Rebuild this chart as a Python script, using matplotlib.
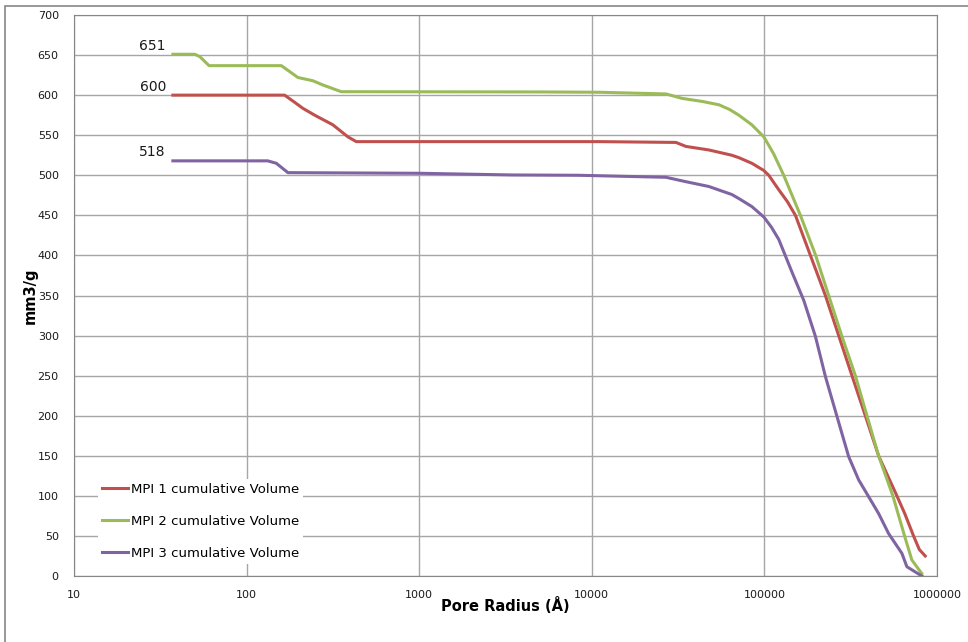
import matplotlib.pyplot as plt
from matplotlib.patches import Rectangle

# pore radius (Angstrom) and cumulative volume (mm3/g)
mpi1_x = [37.4, 166, 190, 212, 248, 316, 386, 432, 4958, 11015, 30720, 35110,
          47690, 64770, 71110, 84560, 99200, 106000, 121100, 136000, 151300,
          184800, 225600, 269400, 321600, 384400, 458800, 585600, 650000,
          731300, 790000, 854500]
mpi1_y = [600, 600, 591, 583.5, 575, 563, 548, 542, 542, 542, 541, 536,
          531.6, 525, 522, 515, 506, 500, 482, 467, 450, 400, 350, 300, 250,
          200, 150, 100, 78, 50, 33, 25]

mpi2_x = [37.4, 50.1, 53.6, 60.6, 159, 198.3, 241.7, 276.6, 353.4, 4958, 11015,
          26900, 33290, 44000, 54490, 63000, 71110, 84560, 99200, 113000,
          129400, 161700, 198200, 235700, 280300, 336500, 392700, 458800,
          555000, 648600, 715000, 816700]
mpi2_y = [651, 651, 648, 636.8, 636.8, 622, 618, 612.7, 604.3, 604, 603.6,
          601.5, 596, 592, 588, 582, 575, 563, 548, 527, 500, 450, 400, 350,
          300, 250, 200, 150, 100, 50, 20, 3]

mpi3_x = [37.4, 132.5, 148.6, 173.5, 1003, 3459, 8445, 26900, 35110, 47690,
          64770, 71110, 84560, 99200, 110000, 121100, 144600, 169000, 197500,
          225600, 263400, 307700, 351600, 401700, 458800, 524200, 625900,
          669000, 816700]
mpi3_y = [518, 518, 515, 503.3, 502.5, 500.4, 500, 497.5, 492, 486, 476, 471,
          461, 448, 435, 420, 379, 344, 299, 249, 199, 149, 120, 99, 78, 53,
          28.3, 11.6, 0]

labels = ["MPI 1 cumulative Volume", "MPI 2 cumulative Volume",
          "MPI 3 cumulative Volume"]
colors = ["#c0504d", "#9bbb59", "#8064a2"]

fig = plt.figure(figsize=(9.68, 6.42), dpi=100)
fig.patches.append(Rectangle((5 / 968, -0.1), 1.2, 1.1 - 6 / 642,
                             transform=fig.transFigure, fill=False,
                             edgecolor="#868686", linewidth=1.2))
ax = fig.add_axes([74 / 968, 1 - 576 / 642, 863 / 968, 561 / 642])

series = [(mpi1_x, mpi1_y), (mpi2_x, mpi2_y), (mpi3_x, mpi3_y)]
for (xs, ys), lab, c in zip(series, labels, colors):
    ax.plot(xs, ys, color=c, linewidth=2.2, label=lab,
            solid_joinstyle="round")
    ax.annotate(str(int(ys[0])), (xs[0], ys[0]), xytext=(-5, 1),
                textcoords="offset points", ha="right", va="bottom",
                fontsize=10, color="#1a1a1a")

ax.set_xscale("log")
ax.set_xlim(10, 1000000)
ax.set_ylim(0, 700)
ax.set_yticks(range(0, 701, 50))
ax.set_xticks([10, 100, 1000, 10000, 100000, 1000000])
ax.set_xticklabels(["10", "100", "1000", "10000", "100000", "1000000"])
ax.minorticks_off()
ax.grid(True, color="#a6a6a6", linewidth=1)
ax.set_axisbelow(True)
for s in ax.spines.values():
    s.set_color("#868686")
ax.tick_params(axis="both", labelsize=8, labelcolor="#1a1a1a", length=0)
ax.tick_params(axis="y", pad=11)
ax.tick_params(axis="x", pad=10)

ax.set_xlabel("Pore Radius (Å)", fontsize=10.5, fontweight="bold", labelpad=-2)
ax.set_ylabel("mm3/g", fontsize=10.5, fontweight="bold", labelpad=0)

leg = ax.legend(loc="lower left", bbox_to_anchor=(0.0197, 0.01), frameon=True,
                fontsize=9.5, handlelength=2.0, handletextpad=0.2,
                labelspacing=1.45, borderpad=0.3)
leg.get_frame().set_edgecolor("none")
leg.get_frame().set_facecolor("white")
leg.get_frame().set_alpha(1)
leg.get_frame().set_boxstyle("square", pad=0)

fig.savefig("out.png", dpi=100)
